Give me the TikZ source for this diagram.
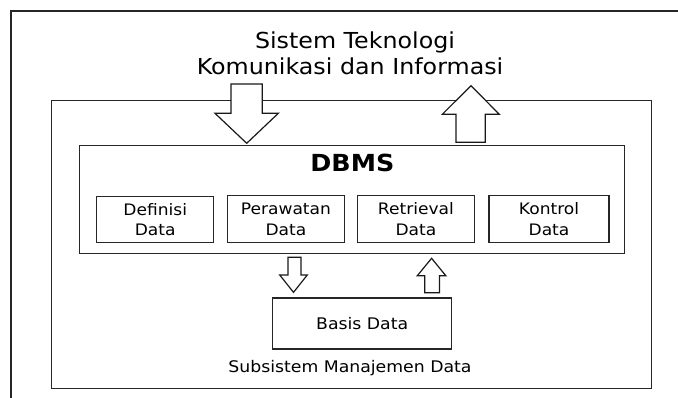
\documentclass[tikz,border=0pt]{standalone}
\usepackage{fontspec}
\setmainfont[FakeStretch=1.08]{DejaVu Sans}
\begin{document}
\begin{tikzpicture}[x=1pt,y=-1pt,
  frame/.style={draw=black!85, line width=1.4pt},
  box/.style={draw=black!85, line width=1.4pt, fill=white, inner sep=0pt, anchor=north west},
  blockarrow/.style={draw=black!90, line width=1.2pt, fill=white, line join=miter},
  boxtext/.style={font=\fontsize{15.8}{20.5}\selectfont, align=center, text=black},
  label/.style={font=\fontsize{16}{18}\selectfont, text=black},
  titletext/.style={font=\fontsize{22}{26}\selectfont, anchor=base, text=black}]
\useasboundingbox (0,0) rectangle (678,397);
% outer frame (open at right and bottom)
\coordinate (oa) at (11,400);
\coordinate (ob) at (11,11);
\coordinate (oc) at (680,11);
\draw[frame] (oa) -- (ob) -- (oc);
% title
\node[titletext] (title1) at (355,48.5) {Sistem Teknologi};
\node[titletext] (title2) at (350,74.5) {Komunikasi dan Informasi};
% subsystem frame
\node[box, minimum width=600pt, minimum height=288pt] (sub) at (51,100) {};
\node[label, anchor=base] (sublabel) at (350,372.5) {Subsistem Manajemen Data};
% DBMS
\node[box, minimum width=545pt, minimum height=107.5pt] (dbms) at (79,145) {};
\node[font=\fontsize{23.5}{26}\selectfont\bfseries, anchor=base] (dbmslabel) at (352.4,171.5) {DBMS};
\node[box, minimum width=117pt, minimum height=46pt] (def) at (96,196) {};
\node[box, minimum width=117pt, minimum height=47pt] (per) at (226.7,195) {};
\node[box, minimum width=117pt, minimum height=47pt] (ret) at (356.7,195) {};
\node[box, minimum width=120pt, minimum height=47pt] (kon) at (488.3,195) {};
\node[boxtext] (deft) at (def.center) {Definisi\\Data};
\node[boxtext] (pert) at (per.center) {Perawatan\\Data};
\node[boxtext] (rett) at (ret.center) {Retrieval\\Data};
\node[boxtext] (kont) at (kon.center) {Kontrol\\Data};
% Basis data
\node[box, minimum width=179pt, minimum height=51pt] (basis) at (272,297.3) {};
\node[label] (basist) at (basis.center) {Basis Data};
% big arrows
\draw[blockarrow] (231,84) -- (262.3,84) -- (262.3,113.3) -- (278.3,113.3) -- (246.7,143.3)
  -- (215,113.3) -- (231,113.3) -- cycle;
\draw[blockarrow] (456,142.3) -- (485.3,142.3) -- (485.3,114.3) -- (499.3,114.3) -- (471,85.7)
  -- (442.3,114.3) -- (456,114.3) -- cycle;
% small arrows
\draw[blockarrow] (288,257.3) -- (301,257.3) -- (301,275) -- (307.3,275) -- (293.5,292.3)
  -- (279.7,275) -- (288,275) -- cycle;
\draw[blockarrow] (424.7,292.7) -- (439.4,292.7) -- (439.4,275.7) -- (445.8,275.7) -- (431.6,258.3)
  -- (417.3,275.7) -- (424.7,275.7) -- cycle;
\end{tikzpicture}
\end{document}
